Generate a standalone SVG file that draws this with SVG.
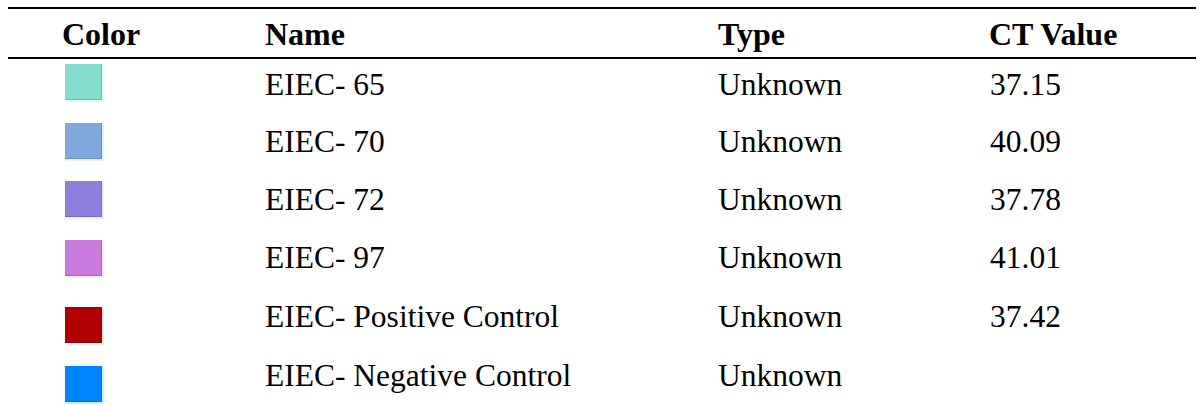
<svg xmlns="http://www.w3.org/2000/svg" width="1197" height="406" viewBox="0 0 1197 406">
<style>
.h{font-family:"Liberation Serif","Times New Roman",serif;font-size:32px;font-weight:bold;fill:#000}
.t{font-family:"Liberation Serif","Times New Roman",serif;font-size:31.5px;fill:#000}
.rule{stroke:#000;stroke-width:2.2}
</style>
<rect width="1197" height="406" fill="#fff"/>
<g id="rules">
<line class="rule" x1="8" y1="8" x2="1196" y2="8"/>
<line class="rule" x1="8" y1="58" x2="1196" y2="58"/>
</g>
<g id="header">
<text class="h" x="62" y="45">Color</text>
<text class="h" x="265" y="45">Name</text>
<text class="h" x="718" y="45">Type</text>
<text class="h" x="989" y="45">CT Value</text>
</g>
<g id="row1">
<rect x="66" y="65" width="38" height="37" fill="#dffcf8"/>
<rect x="65" y="64" width="37" height="36" fill="#6fb8ac"/>
<rect x="65" y="64" width="36" height="35" fill="#82dbcd"/>
<text class="t" x="265" y="95">EIEC- 65</text>
<text class="t" x="718" y="95">Unknown</text>
<text class="t" x="990" y="95">37.15</text>
</g>
<g id="row2">
<rect x="66" y="124" width="38" height="37" fill="#e2f2fd"/>
<rect x="65" y="123" width="37" height="36" fill="#6f8cb8"/>
<rect x="65" y="123" width="36" height="35" fill="#81a8dc"/>
<text class="t" x="265" y="152">EIEC- 70</text>
<text class="t" x="718" y="152">Unknown</text>
<text class="t" x="990" y="152">40.09</text>
</g>
<g id="row3">
<rect x="66" y="182" width="38" height="37" fill="#f0ecfd"/>
<rect x="65" y="181" width="37" height="36" fill="#786bb8"/>
<rect x="65" y="181" width="36" height="35" fill="#8e7fdc"/>
<text class="t" x="265" y="210">EIEC- 72</text>
<text class="t" x="718" y="210">Unknown</text>
<text class="t" x="990" y="210">37.78</text>
</g>
<g id="row4">
<rect x="66" y="241" width="38" height="37" fill="#fbe8fd"/>
<rect x="65" y="240" width="37" height="36" fill="#a868b8"/>
<rect x="65" y="240" width="36" height="35" fill="#c87bdc"/>
<text class="t" x="265" y="268">EIEC- 97</text>
<text class="t" x="718" y="268">Unknown</text>
<text class="t" x="990" y="268">41.01</text>
</g>
<g id="row5">
<rect x="66" y="308" width="38" height="37" fill="#fde8e4"/>
<rect x="65" y="307" width="37" height="36" fill="#6a0a10"/>
<rect x="65" y="307" width="36" height="35" fill="#b00000"/>
<text class="t" x="265" y="327">EIEC- Positive Control</text>
<text class="t" x="718" y="327">Unknown</text>
<text class="t" x="990" y="327">37.42</text>
</g>
<g id="row6">
<rect x="66" y="367" width="38" height="37" fill="#cdeeff"/>
<rect x="65" y="366" width="37" height="36" fill="#1d6fb8"/>
<rect x="65" y="366" width="36" height="35" fill="#0084ff"/>
<text class="t" x="265" y="386">EIEC- Negative Control</text>
<text class="t" x="718" y="386">Unknown</text>
</g>
</svg>
